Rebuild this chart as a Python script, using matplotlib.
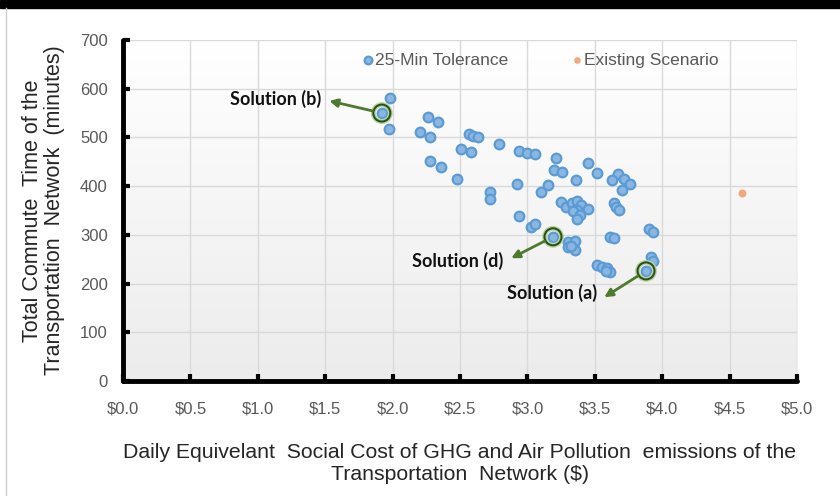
import numpy as np
import matplotlib.pyplot as plt
from matplotlib.colors import LinearSegmentedColormap
from matplotlib.lines import Line2D
from matplotlib.patches import Rectangle

plt.rcParams['font.family'] = ['Liberation Sans', 'DejaVu Sans']

# 25-Min Tolerance solutions: daily social cost ($) vs total commute time (min)
cost = [1.98, 1.92, 1.97,
        2.26, 2.34, 2.20, 2.28,
        2.57, 2.60, 2.63, 2.51, 2.58, 2.79,
        2.28, 2.36, 2.48,
        2.94, 3.00, 3.06,
        2.92, 2.72, 2.72,
        3.21, 3.20, 3.26, 3.45, 3.52, 3.36,
        3.67, 3.63, 3.72, 3.76, 3.70,
        3.15, 3.10,
        3.25, 3.29, 3.33, 3.37, 3.40, 3.45, 3.37, 3.34, 3.39, 3.37,
        3.64, 3.66, 3.68,
        2.94, 3.03, 3.06,
        3.19,
        3.30, 3.35, 3.30, 3.35, 3.32,
        3.61, 3.64,
        3.90, 3.93, 3.92, 3.93, 3.88,
        3.52, 3.55, 3.59, 3.61, 3.58]
time = [580, 550, 518,
        541, 532, 511, 500,
        507, 503, 501, 476, 471, 487,
        452, 439, 415,
        472, 469, 465,
        404, 388, 374,
        457, 434, 430, 448, 428, 413,
        424, 413, 414, 404, 392,
        402, 388,
        367, 358, 365, 370, 361, 353, 351, 348, 341, 332,
        365, 358, 351,
        339, 317, 322,
        296,
        285, 288, 275, 269, 278,
        296, 294,
        311, 305, 255, 247, 226,
        238, 235, 231, 224, 226]

existing_cost = [4.59]
existing_time = [386]

sol_names = ['Solution (a)', 'Solution (b)', 'Solution (d)']
sol_cost = [3.88, 1.92, 3.19]
sol_time = [226, 550, 296]

x_ticks = np.arange(0, 5.01, 0.5)
y_ticks = np.arange(0, 701, 100)

fig = plt.figure(figsize=(8.4, 4.96), dpi=100)
fig.patches.append(Rectangle((0, 1 - 8 / 496), 1, 8 / 496, transform=fig.transFigure,
                             color='black', zorder=0))
fig.lines.append(Line2D([6 / 840, 6 / 840], [0, 1 - 8 / 496], transform=fig.transFigure,
                        color='#d0d0d0', lw=1))

ax = fig.add_axes([123 / 840, 115 / 496, 674 / 840, 341 / 496])

# light gradient in the plot area
cmap = LinearSegmentedColormap.from_list('bg', ['#ececec', '#ffffff'])
grad = np.linspace(0, 1, 256).reshape(-1, 1)
ax.imshow(grad, extent=[0, 1, 0, 1], transform=ax.transAxes, aspect='auto',
          cmap=cmap, origin='lower', zorder=0)

ax.scatter(cost, time, s=48, facecolor='#8ab6e2', edgecolor='#5b9bd5', linewidth=1.6,
           zorder=3, label='25-Min Tolerance')
ax.scatter(existing_cost, existing_time, s=22, facecolor='#f3a87a', edgecolor='#f3a87a',
           zorder=3, label='Existing Scenario')

# highlighted solutions
ax.scatter(sol_cost, sol_time, s=150, facecolor='none', edgecolor='#b7d7a0', linewidth=3.5, zorder=4)
ax.scatter(sol_cost, sol_time, s=150, facecolor='none', edgecolor='#2f4f1f', linewidth=1.5, zorder=5)

green = '#4e7a2e'
label_pos = {'Solution (a)': (3.52, 181), 'Solution (b)': (1.47, 579), 'Solution (d)': (2.82, 246)}
tip_pos = {'Solution (a)': (3.57, 172), 'Solution (b)': (1.53, 575), 'Solution (d)': (2.88, 252)}
for name, cx, cy in zip(sol_names, sol_cost, sol_time):
    ax.annotate('', xy=tip_pos[name], xytext=(cx, cy),
                arrowprops=dict(arrowstyle='-|>', color=green, lw=2, mutation_scale=12,
                                shrinkA=7, shrinkB=0), zorder=6)
    lx, ly = label_pos[name]
    ax.text(lx, ly, name, ha='right', va='center', fontsize=13, fontweight='bold',
            family=['Lato', 'DejaVu Sans'], color='#111111', zorder=6)

ax.set_xlim(0, 5)
ax.set_ylim(0, 700)
ax.set_xticks(x_ticks)
ax.set_xticklabels(['\\$%.1f' % v for v in x_ticks])
ax.set_yticks(y_ticks)
ax.grid(color='#d9d9d9', lw=1)
ax.set_axisbelow(True)

for side in ['top', 'right']:
    ax.spines[side].set_visible(False)
for side in ['left', 'bottom']:
    ax.spines[side].set_linewidth(3.5)
    ax.spines[side].set_color('black')
    ax.spines[side].set_capstyle('round')
    ax.spines[side].set_zorder(7)

ax.tick_params(direction='in', length=5, width=3, color='black', labelcolor='#595959',
               labelsize=12)
ax.tick_params(axis='y', pad=11)
ax.tick_params(axis='x', pad=15)

ax.set_ylabel('Total Commute  Time of the\nTransportation  Network  (minutes)',
              fontsize=15.5, color='#262626', labelpad=11, linespacing=1.05)
ax.set_xlabel('Daily Equivelant  Social Cost of GHG and Air Pollution  emissions of the\n'
              'Transportation  Network ($)', fontsize=15.3, color='#262626', labelpad=19,
              linespacing=1.2)

ax.legend(loc='center', bbox_to_anchor=(0.620, 0.941), ncol=2, frameon=False, fontsize=12.5,
          labelcolor='#595959', handlelength=0.5, handletextpad=0.15, columnspacing=3.7,
          markerscale=0.8)

fig.savefig('out.png', dpi=100)
